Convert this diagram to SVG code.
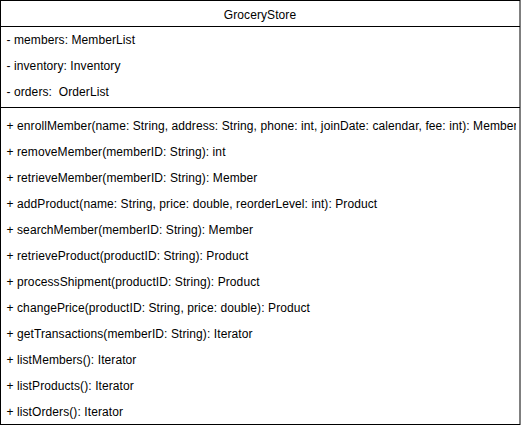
<svg xmlns="http://www.w3.org/2000/svg" width="521" height="428" viewBox="0 0 521 428">
<style>
.t{font-family:"Liberation Sans",Arial,sans-serif;font-size:12px;fill:#000;letter-spacing:0.09px;white-space:pre}
.b{fill:#fff;stroke:#000;stroke-width:1}
</style>
<defs><clipPath id="c"><rect x="0" y="0" width="516" height="428"/></clipPath></defs>
<rect width="521" height="428" fill="#fff"/>
<g id="GroceryStore">
<rect class="b" x="0.5" y="0.5" width="519.5" height="424"/>
<line x1="0.5" y1="26.5" x2="520" y2="26.5" stroke="#000"/>
<line x1="0.5" y1="107.5" x2="520" y2="107.5" stroke="#000"/>
<text class="t" x="260" y="19" text-anchor="middle">GroceryStore</text>
<g clip-path="url(#c)">
<text class="t" x="6.5" y="44">- members: MemberList</text>
<text class="t" x="6.5" y="70">- inventory: Inventory</text>
<text class="t" x="6.5" y="96" xml:space="preserve">- orders:  OrderList</text>
<text class="t" x="6.5" y="130">+ enrollMember(name: String, address: String, phone: int, joinDate: calendar, fee: int): Member</text>
<text class="t" x="6.5" y="156">+ removeMember(memberID: String): int</text>
<text class="t" x="6.5" y="182">+ retrieveMember(memberID: String): Member</text>
<text class="t" x="6.5" y="208">+ addProduct(name: String, price: double, reorderLevel: int): Product</text>
<text class="t" x="6.5" y="234">+ searchMember(memberID: String): Member</text>
<text class="t" x="6.5" y="260">+ retrieveProduct(productID: String): Product</text>
<text class="t" x="6.5" y="286">+ processShipment(productID: String): Product</text>
<text class="t" x="6.5" y="312">+ changePrice(productID: String, price: double): Product</text>
<text class="t" x="6.5" y="338">+ getTransactions(memberID: String): Iterator</text>
<text class="t" x="6.5" y="364">+ listMembers(): Iterator</text>
<text class="t" x="6.5" y="390">+ listProducts(): Iterator</text>
<text class="t" x="6.5" y="416">+ listOrders(): Iterator</text>
</g>
</g>
<g id="connectors"/>
</svg>
